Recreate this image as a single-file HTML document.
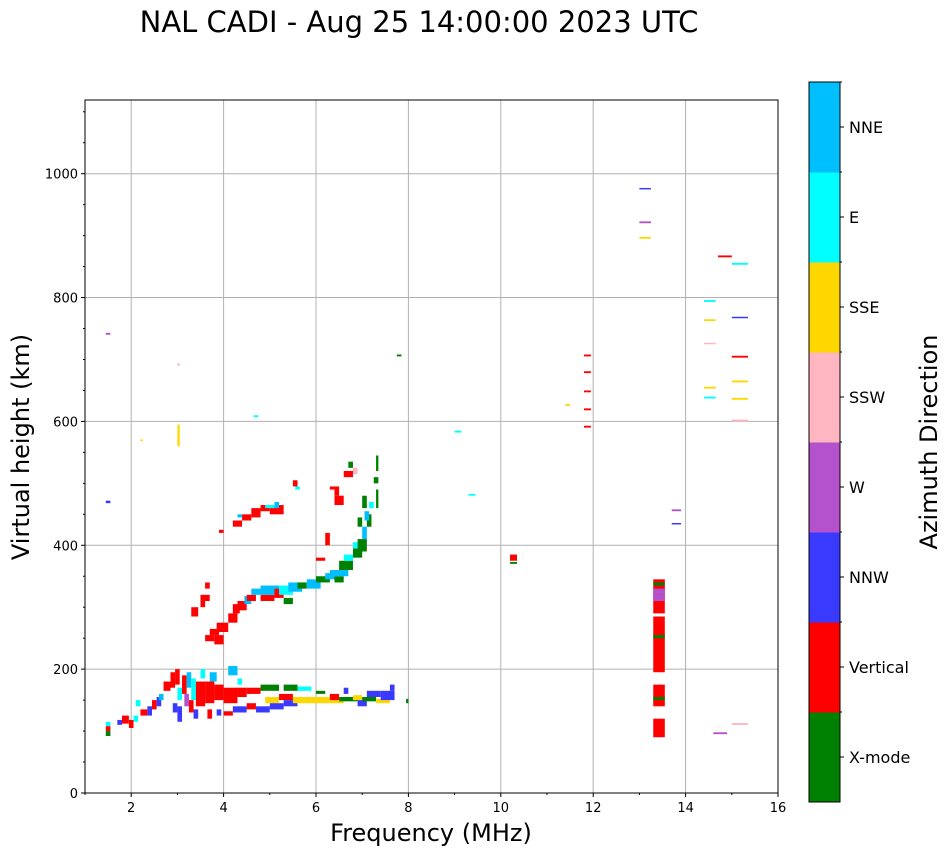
<!DOCTYPE html>
<html><head><meta charset="utf-8"><style>
html,body{margin:0;padding:0;background:#fff;}
svg{display:block;font-family:"DejaVu Sans","Liberation Sans",sans-serif;}
</style></head><body>
<svg id="chart" width="951" height="856" viewBox="0 0 951 856">
<text x="419" y="32" font-size="29" text-anchor="middle">NAL CADI - Aug 25 14:00:00 2023 UTC</text>
<g id="grid"></g>
<g id="marks"></g>
<rect x="85" y="100" width="693" height="693" fill="none" stroke="#000" stroke-width="1"/>
<g id="axes"></g>
<text x="431" y="841" font-size="24" text-anchor="middle">Frequency (MHz)</text>
<text transform="translate(29,447) rotate(-90)" font-size="24" text-anchor="middle">Virtual height (km)</text>
<g id="cbar"></g>
<text transform="translate(937,442) rotate(-90)" font-size="24" text-anchor="middle">Azimuth Direction</text>
</svg>
<script>
const categories = ["X-mode","Vertical","NNW","W","SSW","SSE","E","NNE"];
const catColors = ["#008000","#ff0000","#3a3aff","#b452cd","#ffb6c1","#ffd700","#00ffff","#00bfff"];
const xTicks = [2,4,6,8,10,12,14,16];
const yTicks = [0,200,400,600,800,1000];
// echo cells: [freqStart, freqEnd, heightStart, heightEnd, categoryIndex]
const echoes = [
[1.45,1.55,92,100,0],[1.45,1.55,100,108,1],[1.45,1.55,108,115,6],
[1.7,1.8,110,118,2],[1.8,1.95,112,125,1],[1.95,2.05,105,118,1],[2.05,2.15,115,125,6],[2.1,2.2,140,150,6],[2.2,2.35,125,135,1],[2.35,2.45,125,140,2],[2.45,2.55,135,150,1],[2.55,2.65,140,155,2],[2.6,2.7,150,160,7],[2.7,2.85,165,180,1],[2.85,2.95,170,195,1],[2.9,3.0,130,145,2],[2.95,3.05,175,200,1],[3.0,3.1,115,140,2],[3.0,3.1,150,170,6],[3.1,3.2,160,190,1],[3.15,3.25,140,160,3],[3.2,3.3,170,195,7],[3.25,3.35,130,150,1],[3.3,3.4,150,185,6],[3.35,3.45,120,135,2],[3.4,3.6,140,180,1],[3.5,3.6,185,200,6],[3.6,3.8,145,180,1],[3.65,3.75,120,135,1],[3.7,3.85,180,195,7],[3.8,4.0,150,175,1],[3.85,3.95,125,135,2],[4.0,4.3,145,170,1],[4.0,4.2,125,132,1],[4.1,4.3,190,205,7],[4.2,4.5,130,140,2],[4.3,4.5,155,170,1],[4.3,4.4,175,185,6],[4.5,4.8,160,170,1],[4.5,4.7,135,145,1],[4.7,5.0,130,140,2],[4.8,5.2,165,175,0],[4.9,5.2,145,155,5],[5.0,5.3,135,145,2],[5.2,5.5,150,160,1],[5.3,5.6,140,150,2],[5.3,5.6,165,175,0],[5.5,5.9,145,155,5],[5.6,5.9,165,172,6],[5.9,6.3,145,155,5],[6.0,6.2,160,165,0],[6.3,6.6,145,152,5],[6.3,6.5,150,160,1],[6.5,6.9,148,155,0],[6.6,6.7,160,170,2],[6.8,7.0,150,158,5],[6.9,7.1,140,150,2],[7.0,7.3,148,155,0],[7.1,7.4,155,165,2],[7.3,7.6,145,152,5],[7.4,7.7,150,165,2],[7.6,7.7,165,175,2],[7.95,8.0,145,152,0],
[3.3,3.45,285,300,1],[3.5,3.7,310,320,1],[3.6,3.7,330,340,1],[3.5,3.6,300,310,1],[3.6,3.8,245,255,1],[3.7,3.9,255,265,1],[3.8,4.0,240,255,1],[3.85,4.1,260,275,1],[4.1,4.3,275,290,1],[4.2,4.35,290,305,1],[4.3,4.5,295,310,1],[4.45,4.6,305,318,7],[4.5,4.7,310,320,1],[4.6,4.8,320,330,7],[4.8,5.1,310,320,1],[4.8,5.2,320,335,7],[5.1,5.3,315,330,1],[5.2,5.5,320,335,6],[5.3,5.5,305,315,0],[5.4,5.7,325,340,7],[5.6,5.8,330,340,0],[5.8,6.1,330,345,7],[6.0,6.3,340,350,0],[6.2,6.4,345,355,7],[6.4,6.6,340,350,0],[6.3,6.7,350,360,7],[6.5,6.8,360,375,0],[6.6,6.8,375,385,6],[6.8,7.0,380,395,0],[6.9,7.1,390,410,0],[6.8,6.9,395,405,6],[7.0,7.1,410,430,7],[7.1,7.2,430,450,0],[7.15,7.25,460,470,6],[7.3,7.35,460,490,0],[7.25,7.35,500,510,0],[7.3,7.35,520,545,0],[6.2,6.3,400,420,1],[6.0,6.2,375,380,1],[6.4,6.5,480,490,1],[6.4,6.6,465,480,1],[6.3,6.5,490,495,1],[6.7,6.8,525,535,0],[6.6,6.8,510,520,1],[6.8,6.9,515,525,4],[7.0,7.1,460,480,0],[6.9,7.0,430,445,0],[7.05,7.15,440,455,7],
[3.9,4.0,420,425,1],[4.2,4.4,430,440,1],[4.4,4.6,440,450,1],[4.3,4.4,445,450,7],[4.6,4.8,445,460,1],[4.8,5.0,455,465,1],[5.0,5.3,450,465,1],[5.1,5.2,460,470,7],[4.9,5.1,460,465,6],[5.5,5.6,495,505,1],[5.55,5.65,490,495,6],
[1.45,1.55,740,743,3],[1.45,1.55,468,472,2],[2.2,2.25,568,571,5],[3.0,3.05,560,595,5],[3.0,3.05,690,694,4],[4.65,4.75,607,610,6],[7.75,7.85,705,708,0],[9.0,9.15,582,585,6],[9.3,9.45,480,483,6],[10.2,10.35,375,385,1],[10.2,10.35,370,373,0],[11.4,11.5,625,628,5],[11.8,11.95,590,593,1],[11.8,11.95,618,621,1],[11.8,11.95,647,650,1],[11.8,11.95,678,681,1],[11.8,11.95,705,708,1],[13.0,13.25,975,977,2],[13.0,13.25,920,923,3],[13.0,13.25,895,898,5],
[13.3,13.55,90,120,1],[13.3,13.55,140,175,1],[13.3,13.55,195,285,1],[13.3,13.55,290,345,1],[13.3,13.55,310,320,3],[13.3,13.55,320,330,3],[13.3,13.55,150,155,0],[13.3,13.55,250,255,0],[13.3,13.55,335,340,0],
[13.7,13.9,455,458,3],[13.7,13.9,434,436,2],[14.4,14.65,793,796,6],[14.4,14.65,762,765,5],[14.4,14.65,725,727,4],[14.4,14.65,653,656,5],[14.4,14.65,637,640,6],[14.6,14.9,95,98,3],[14.7,15.0,865,868,1],[15.0,15.35,853,856,6],[15.0,15.35,767,769,2],[15.0,15.35,703,706,1],[15.0,15.35,663,666,5],[15.0,15.35,635,638,5],[15.0,15.35,600,603,4],[15.0,15.35,110,113,4]
];
const NS="http://www.w3.org/2000/svg";
const X0=85,X1=778,Y0=793,Y1=100,FMIN=1,FMAX=16,HMIN=0,HMAX=1119;
function xPx(f){return X0+(f-FMIN)/(FMAX-FMIN)*(X1-X0);}
function yPx(h){return Y0-(h-HMIN)/(HMAX-HMIN)*(Y0-Y1);}
function mk(tag,attrs,parent){const e=document.createElementNS(NS,tag);for(const k in attrs)e.setAttribute(k,attrs[k]);parent.appendChild(e);return e;}
const grid=document.getElementById('grid'),marks=document.getElementById('marks'),axes=document.getElementById('axes'),cbar=document.getElementById('cbar');
xTicks.forEach(t=>{const x=xPx(t);
 const g=mk('line',{x1:x,x2:x,y1:Y1,y2:Y0,stroke:'#b0b0b0','stroke-width':1},grid);
 
 
 mk('line',{x1:x,x2:x,y1:Y0,y2:Y0+4,stroke:'#000'},axes);
 const tx=mk('text',{x:x,y:Y0+19,'font-size':13,'text-anchor':'middle'},axes);tx.textContent=t;
 
 });
yTicks.forEach(t=>{const y=yPx(t);
 const g=mk('line',{x1:X0,x2:X1,y1:y,y2:y,stroke:'#b0b0b0','stroke-width':1},grid);
 
 
 mk('line',{x1:X0-4,x2:X0,y1:y,y2:y,stroke:'#000'},axes);
 const tx=mk('text',{x:X0-7,y:y+5,'font-size':13,'text-anchor':'end'},axes);tx.textContent=t;
 
 });
for(let h=50;h<HMAX;h+=50){if(h%200)mk('line',{x1:X0-2,x2:X0,y1:yPx(h),y2:yPx(h),stroke:'#000'},axes);}
for(let f=1;f<=16;f++){if(f%2)mk('line',{x1:xPx(f),x2:xPx(f),y1:Y0,y2:Y0+2,stroke:'#000'},axes);}
echoes.forEach(e=>{const x=xPx(e[0]),w=Math.max(2,xPx(e[1])-x),y=yPx(e[3]),h=Math.max(1.5,yPx(e[2])-y);
 const r=mk('rect',{x:x,y:y,width:w,height:h,fill:catColors[e[4]]},marks);
 
 });
const CX=809,CW=31,CT=82,CB=802,n=categories.length,ch=(CB-CT)/n;
categories.forEach((c,i)=>{const y=CB-(i+1)*ch;
 const r=mk('rect',{x:CX,y:y,width:CW,height:ch+0.5,fill:catColors[i]},cbar);
 
 
 mk('line',{x1:CX+CW,x2:CX+CW+4,y1:y+ch/2,y2:y+ch/2,stroke:'#000'},cbar);
 mk('line',{x1:CX+CW,x2:CX+CW+2,y1:y,y2:y,stroke:'#000'},cbar);
 const tx=mk('text',{x:CX+CW+9,y:y+ch/2+6,'font-size':16},cbar);tx.textContent=c;
 
 });
mk('rect',{x:CX,y:CT,width:CW,height:CB-CT,fill:'none',stroke:'#000'},cbar);
</script>
</body></html>
